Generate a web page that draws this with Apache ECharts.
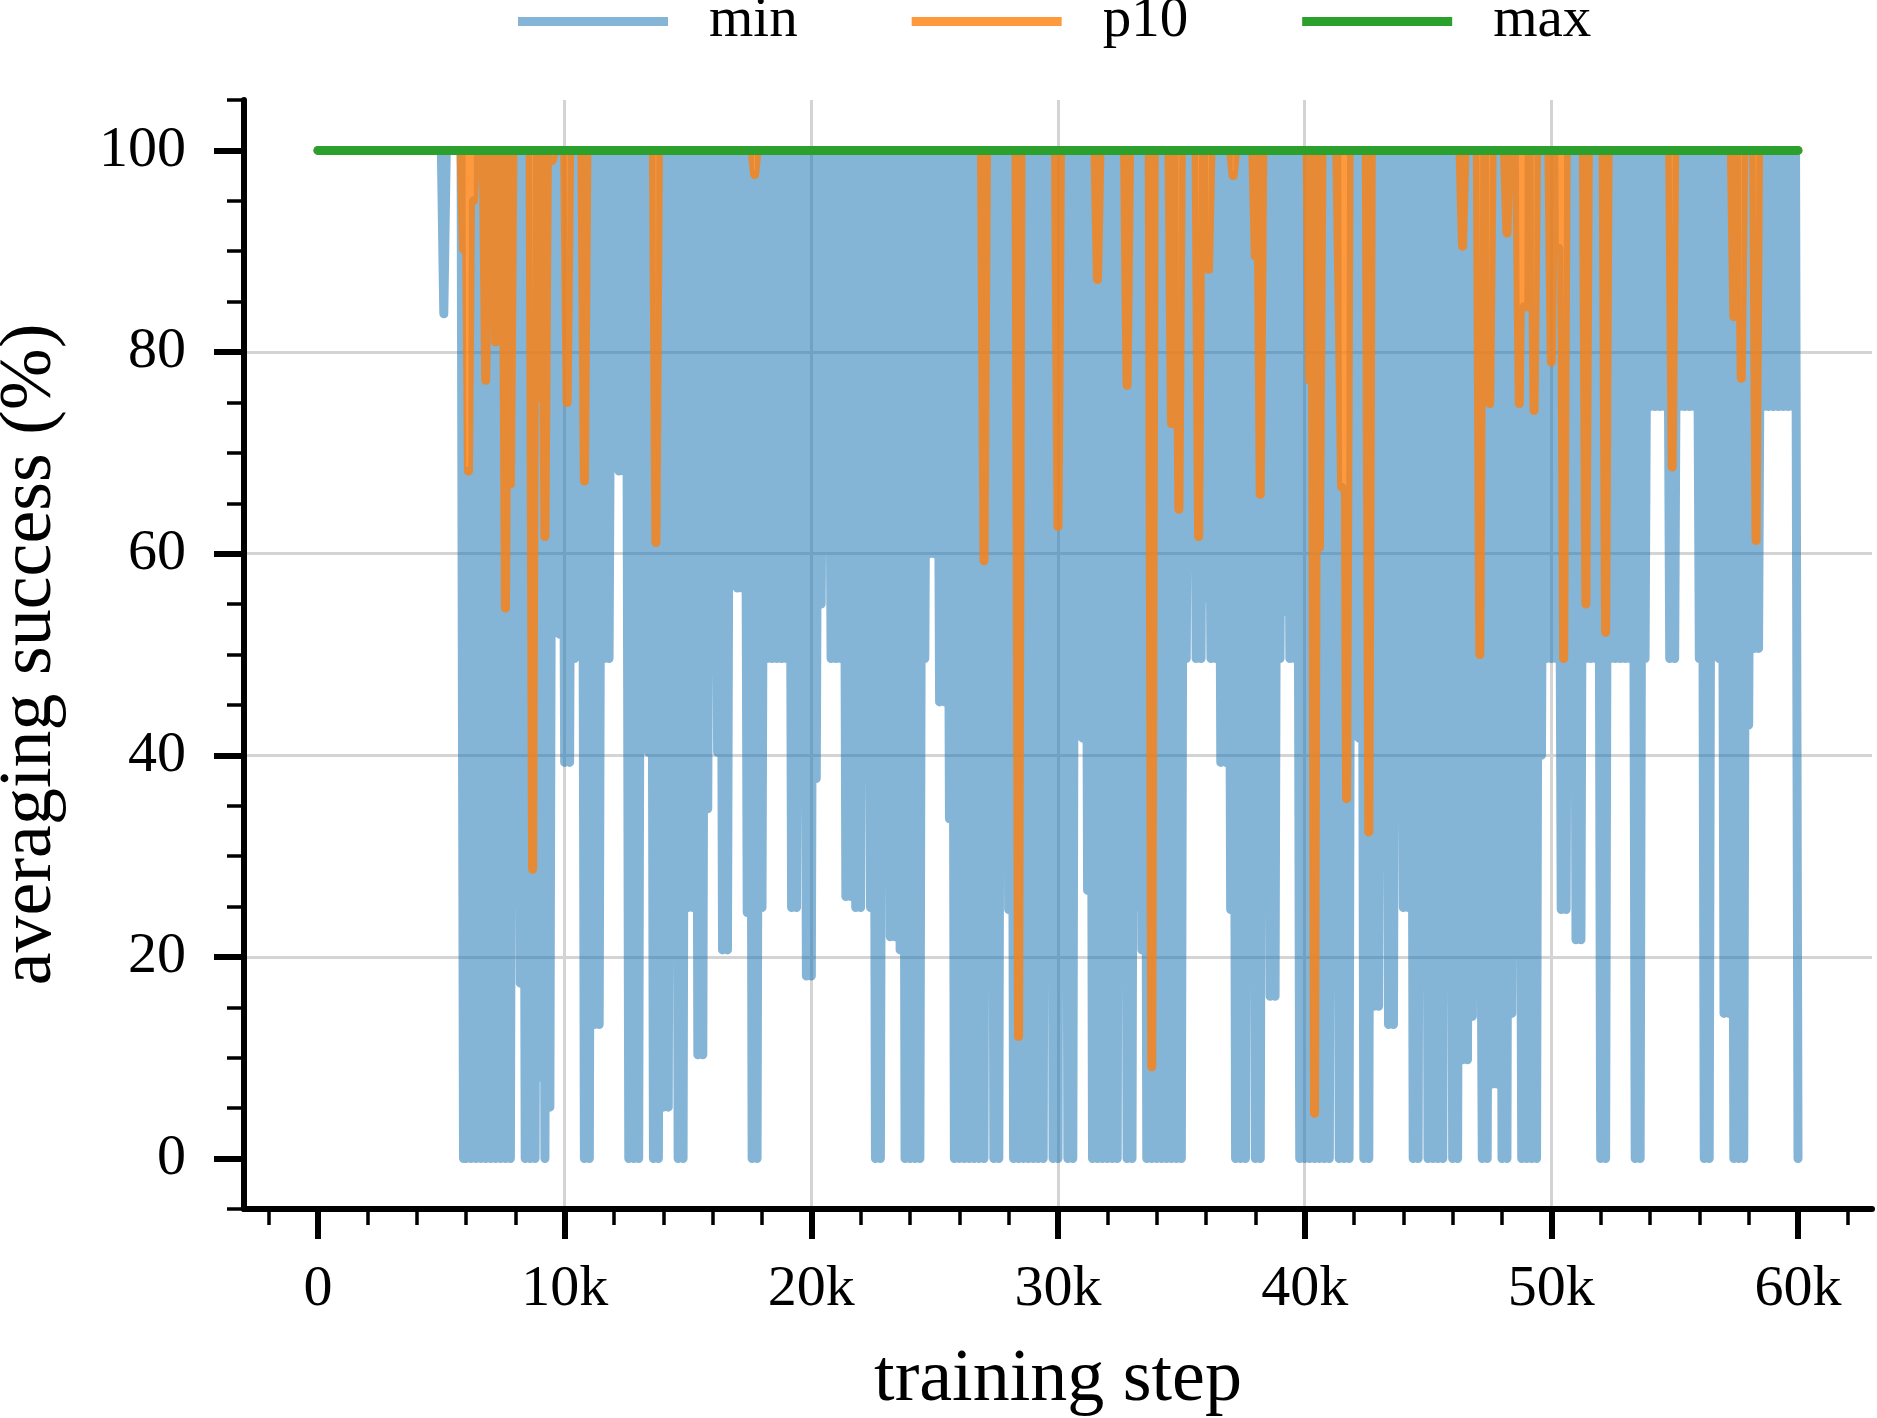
<!DOCTYPE html>
<html>
<head>
<meta charset="utf-8">
<script src="https://cdn.jsdelivr.net/npm/echarts@6/dist/echarts.min.js"></script>
<style>
html,body{margin:0;padding:0;background:#ffffff;}
#chart{width:1877px;height:1418px;}
</style>
</head>
<body>
<div id="chart"></div>
<script>
// training step of point i = i * stepInterval
const stepInterval = 100;

// "min" series, one value per logged step (0 .. 60000)
const minVals = [
100,100,100,100,100,100,100,100,100,100,
100,100,100,100,100,100,100,100,100,100,
100,100,100,100,100,100,100,100,100,100,
100,100,100,100,100,100,100,100,100,100,
100,100,100,100,100,100,100,100,100,100,
100,83.8,100,100,100,100,100,100,100,0,
0,68.2,0,95,0,100,0,100,0,100,
0,100,0,100,0,100,0,100,0,100,
48.6,100,17.4,100,0,100,0,28.7,0,100,
8.1,100,0,100,5.1,99,74.6,100,52,100,
39.3,75,39.3,100,49.6,100,74.6,100,0,100,
0,100,13.3,100,13.3,100,49.6,100,49.6,100,
74.6,100,68.2,100,68.2,100,0,100,0,100,
0,100,49.6,100,40.3,100,0,61.1,0,100,
5.1,100,5.1,100,34.7,100,0,100,0,100,
24.9,100,24.9,100,10.3,100,10.3,100,34.7,100,
50.6,100,40.3,100,20.7,100,20.7,100,57.6,100,
56.6,100,56.6,100,24.4,100,0,97.6,0,100,
24.9,100,49.6,100,49.6,100,49.6,100,49.6,100,
49.6,100,24.9,100,24.9,100,74.6,100,18.1,100,
18.1,100,37.7,100,55,100,74.6,100,49.6,100,
49.6,100,49.6,100,26,100,26,100,24.9,100,
24.9,100,49.6,100,24.9,100,0,100,0,100,
40.3,100,22,100,22,100,20.7,100,0,100,
0,100,0,100,0,100,49.6,100,60,100,
60,100,45.3,100,45.3,100,33.7,100,0,100,
0,100,0,100,0,100,0,100,0,100,
0,100,48.6,100,0,100,0,100,48,100,
24.7,100,0,100,0,100,0,100,0,100,
0,100,0,100,0,100,31,100,0,100,
0,100,27.7,100,0,100,0,100,74.6,100,
41.7,100,26.6,100,0,100,0,100,0,100,
0,100,0,100,0,100,48.3,100,0,100,
0,100,25,100,20.7,100,0,100,0,100,
0,100,0,100,0,100,0,100,0,64.4,
0,100,49.6,100,74.6,100,49.6,61.7,49.6,100,
55.6,88.2,49.6,100,49.6,100,39.3,100,39.3,100,
24.7,97.5,0,100,0,100,0,100,32.4,100,
0,100,0,100,27.7,100,16.1,100,16.1,100,
49.6,100,54.3,100,49.6,100,49.6,100,0,100,
0,100,0,100,0,100,0,100,0,100,
0,100,49.6,100,0,66.6,0,35.7,0,100,
66,100,41.7,100,0,100,0,100,15.1,100,
15.1,100,74.6,100,13.3,100,13.3,100,73.2,100,
24.9,100,24.9,100,0,100,0,100,49.6,100,
0,100,0,100,0,100,0,100,45,100,
0,100,0,100,9.8,100,9.8,100,14.1,100,
49.6,50,0,100,0,74.9,7.4,100,7.4,100,
0,100,0,100,14.4,100,49.6,74.9,0,84.5,
0,100,0,74.2,0,100,40,100,49.6,100,
49.6,100,49.6,90.3,24.7,49.6,24.7,100,49.6,100,
21.7,100,21.7,100,49.6,100,49.6,100,49.6,100,
0,100,0,100,49.6,100,49.6,100,49.6,100,
49.6,100,49.6,100,0,100,0,100,49.6,100,
74.6,100,74.6,100,74.6,100,74.6,100,49.6,68.6,
49.6,100,74.6,100,74.6,100,74.6,100,74.6,100,
49.6,100,0,100,0,100,74.6,100,49.6,100,
14.4,100,14.4,100,0,100,0,77.4,0,100,
43,100,50.6,61.3,50.6,100,74.6,100,74.6,100,
74.6,100,74.6,100,74.6,100,74.6,100,74.6,100,
0
];

// "p10" series, one value per logged step (0 .. 60000)
const p10Vals = [
100,100,100,100,100,100,100,100,100,100,
100,100,100,100,100,100,100,100,100,100,
100,100,100,100,100,100,100,100,100,100,
100,100,100,100,100,100,100,100,100,100,
100,100,100,100,100,100,100,100,100,100,
100,100,100,100,100,100,100,100,100,90.2,
100,68.2,100,95,100,100,100,100,77.2,100,
93.8,100,81,100,100,100,54.6,100,66.9,100,
100,100,100,100,100,100,100,28.7,100,100,
75.5,100,61.7,100,100,99,100,100,100,100,
100,75,100,100,100,100,100,100,67.2,100,
100,100,100,100,100,100,100,100,100,100,
100,100,100,100,100,100,100,100,100,100,
100,100,100,100,100,100,100,61.1,100,100,
100,100,100,100,100,100,100,100,100,100,
100,100,100,100,100,100,100,100,100,100,
100,100,100,100,100,100,100,100,100,100,
100,100,100,100,100,100,100,97.6,100,100,
100,100,100,100,100,100,100,100,100,100,
100,100,100,100,100,100,100,100,100,100,
100,100,100,100,100,100,100,100,100,100,
100,100,100,100,100,100,100,100,100,100,
100,100,100,100,100,100,100,100,100,100,
100,100,100,100,100,100,100,100,100,100,
100,100,100,100,100,100,100,100,100,100,
100,100,100,100,100,100,100,100,100,100,
100,100,100,100,100,100,100,100,100,100,
59.3,100,100,100,100,100,100,100,100,100,
100,100,100,100,12.1,100,100,100,100,100,
100,100,100,100,100,100,100,100,100,100,
62.7,100,100,100,100,100,100,100,100,100,
100,100,100,100,100,100,87.2,100,100,100,
100,100,100,100,100,100,100,100,76.7,100,
100,100,100,100,100,100,100,100,9.1,100,
100,100,100,100,100,100,72.9,100,100,64.4,
100,100,100,100,100,100,100,61.7,100,100,
100,88.2,100,100,100,100,100,100,100,100,
100,97.5,100,100,100,100,100,100,100,100,
89.5,100,65.9,100,100,100,100,100,100,100,
100,100,100,100,100,100,100,100,100,100,
100,100,77.2,100,4.5,100,60.6,100,100,100,
100,100,100,100,84.5,66.6,100,35.7,100,100,
100,100,100,100,100,100,32.4,100,100,100,
100,100,100,100,100,100,100,100,100,100,
100,100,100,100,100,100,100,100,100,100,
100,100,100,100,100,100,100,100,100,100,
100,100,100,100,90.5,100,100,100,100,100,
100,50,100,100,100,74.9,100,100,100,100,
100,100,91.8,100,100,100,100,74.9,100,84.5,
84.5,100,100,74.2,100,100,100,100,100,100,
79,100,100,90.3,100,49.6,100,100,100,100,
100,100,100,100,55,100,100,100,100,100,
100,100,52.2,100,100,100,100,100,100,100,
100,100,100,100,100,100,100,100,100,100,
100,100,100,100,100,100,100,100,100,68.6,
100,100,100,100,100,100,100,100,100,100,
100,100,100,100,100,100,100,100,100,100,
100,100,100,100,83.5,100,100,77.4,100,100,
100,100,100,61.3,100,100,100,100,100,100,
100,100,100,100,100,100,100,100,100,100,
100
];

// "max" series: constant 100 across the whole run
const maxSteps = [0, 60000];
const maxVals = [100, 100];

// axis ticks / labels
const xTickValues = [0, 10000, 20000, 30000, 40000, 50000, 60000];
const xTickLabels = ['0', '10k', '20k', '30k', '40k', '50k', '60k'];
const xMinorTicks = [-2000, 2000, 4000, 6000, 8000, 12000, 14000, 16000, 18000, 22000, 24000, 26000, 28000,
  32000, 34000, 36000, 38000, 42000, 44000, 46000, 48000, 52000, 54000, 56000, 58000, 62000];
const yTickValues = [0, 20, 40, 60, 80, 100];
const yTickLabels = ['0', '20', '40', '60', '80', '100'];
const yMinorTicks = [-5, 5, 10, 15, 25, 30, 35, 45, 50, 55, 65, 70, 75, 85, 90, 95, 105];

const seriesNames = ['min', 'p10', 'max'];
const FONT = "'Liberation Serif', 'DejaVu Serif', serif";

const toPairs = (vals) => vals.map((v, i) => [i * stepInterval, v]);
const maxPairs = maxSteps.map((s, i) => [s, maxVals[i]]);

const chart = echarts.init(document.getElementById('chart'), null, { renderer: 'canvas' });

const lineCommon = { width: 9, join: 'round', cap: 'round' };

chart.setOption({
  animation: false,
  backgroundColor: '#ffffff',
  grid: { left: 244, right: 5, top: 100, bottom: 209, containLabel: false, outerBoundsMode: 'none' },
  legend: {
    left: 518,
    top: -7,
    padding: 0,
    orient: 'horizontal',
    icon: 'rect',
    itemWidth: 150,
    itemHeight: 9,
    itemGap: 114,
    selectedMode: false,
    textStyle: { fontFamily: FONT, fontSize: 57, color: '#000', padding: [0, 0, 0, 36] },
    data: [
      { name: seriesNames[0], itemStyle: { color: 'rgba(31,119,180,0.55)' } },
      { name: seriesNames[1], itemStyle: { color: 'rgba(255,127,14,0.8)' } },
      { name: seriesNames[2], itemStyle: { color: '#2ca02c' } }
    ]
  },
  xAxis: [
    {
      type: 'value', min: -3000, max: 63000, position: 'bottom',
      name: 'training step', nameLocation: 'middle', nameGap: 135,
      nameTextStyle: { fontFamily: FONT, fontSize: 74, color: '#000' },
      axisLine: { show: true, onZero: false, lineStyle: { color: '#000', width: 6 } },
      axisTick: { show: true, inside: false, length: 30, customValues: xTickValues, lineStyle: { color: '#000', width: 6 } },
      axisLabel: {
        show: true, customValues: xTickValues, margin: 52,
        fontFamily: FONT, fontSize: 58, color: '#000',
        formatter: (v) => { const k = xTickValues.indexOf(v); return k >= 0 ? xTickLabels[k] : ''; }
      },
      splitLine: { show: true, showMinLine: false, showMaxLine: false, lineStyle: { color: '#d4d4d4', width: 3 } }
    },
    {
      type: 'value', min: -3000, max: 63000, position: 'bottom',
      axisLine: { show: false, onZero: false },
      axisTick: { show: true, inside: false, length: 16, customValues: xMinorTicks, lineStyle: { color: '#000', width: 3.5 } },
      axisLabel: { show: false },
      splitLine: { show: false }
    }
  ],
  yAxis: [
    {
      type: 'value', min: -5, max: 105, position: 'left',
      name: 'averaging success (%)', nameLocation: 'middle', nameGap: 176, nameRotate: 90,
      nameTextStyle: { fontFamily: FONT, fontSize: 74, color: '#000' },
      axisLine: { show: true, onZero: false, lineStyle: { color: '#000', width: 6 } },
      axisTick: { show: true, inside: false, length: 30, customValues: yTickValues, lineStyle: { color: '#000', width: 6 } },
      axisLabel: {
        show: true, customValues: yTickValues, margin: 58,
        fontFamily: FONT, fontSize: 58, color: '#000',
        formatter: (v) => { const k = yTickValues.indexOf(v); return k >= 0 ? yTickLabels[k] : ''; }
      },
      splitLine: { show: true, showMinLine: false, showMaxLine: false, lineStyle: { color: '#d4d4d4', width: 3 } }
    },
    {
      type: 'value', min: -5, max: 105, position: 'left',
      axisLine: { show: false, onZero: false },
      axisTick: { show: true, inside: false, length: 17, customValues: yMinorTicks, lineStyle: { color: '#000', width: 3.5 } },
      axisLabel: { show: false },
      splitLine: { show: false }
    }
  ],
  series: [
    {
      name: seriesNames[0], type: 'line', xAxisIndex: 0, yAxisIndex: 0,
      data: toPairs(minVals), showSymbol: false, symbol: 'none', z: 2,
      color: '#1f77b4',
      lineStyle: Object.assign({ color: '#1f77b4', opacity: 0.55 }, lineCommon)
    },
    {
      name: seriesNames[1], type: 'line', xAxisIndex: 0, yAxisIndex: 0,
      data: toPairs(p10Vals), showSymbol: false, symbol: 'none', z: 3,
      color: '#ff7f0e',
      lineStyle: Object.assign({ color: '#ff7f0e', opacity: 0.8 }, lineCommon)
    },
    {
      name: seriesNames[2], type: 'line', xAxisIndex: 0, yAxisIndex: 0,
      data: maxPairs, showSymbol: false, symbol: 'none', z: 4,
      color: '#2ca02c',
      lineStyle: Object.assign({ color: '#2ca02c', opacity: 1 }, lineCommon)
    }
  ]
});
</script>
</body>
</html>
